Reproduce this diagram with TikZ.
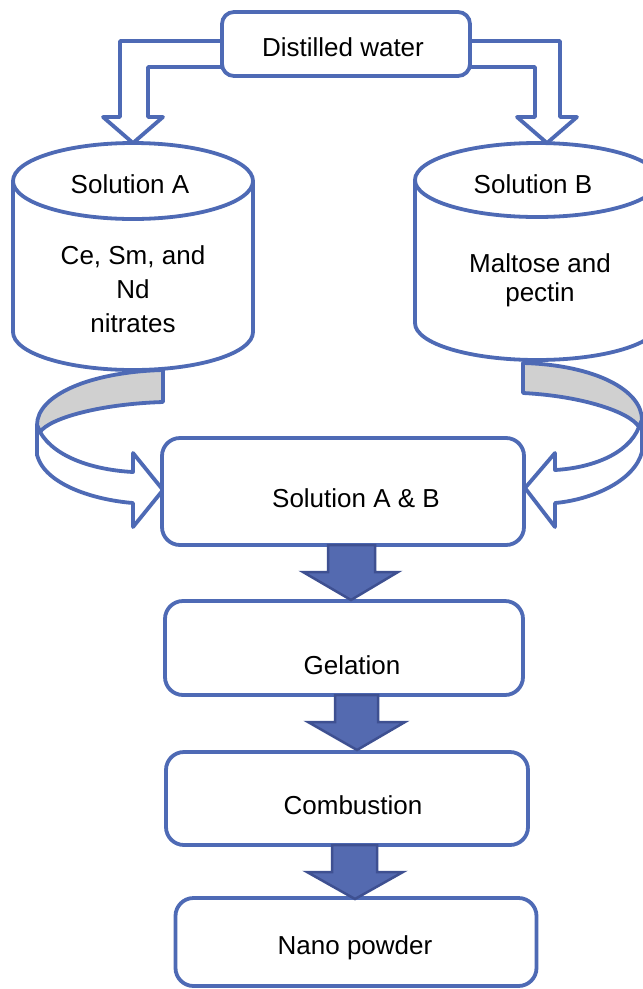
\documentclass[tikz,border=0pt]{standalone}
\usepackage{fontspec}
\setmainfont{Liberation Sans}
\definecolor{lblue}{RGB}{78,106,181}
\definecolor{bfill}{RGB}{84,106,176}
\definecolor{bdraw}{RGB}{62,80,145}
\definecolor{lgray}{RGB}{208,208,208}
\begin{document}
\begin{tikzpicture}[x=1pt,y=-1pt,
  every node/.style={font=\fontsize{26}{31}\selectfont, text=black},
  box/.style={draw=lblue, line width=3.8pt, fill=white, rounded corners=18pt, inner sep=0pt},
  outl/.style={draw=lblue, line width=3.8pt, line join=round},
  blk/.style={fill=bfill, draw=bdraw, line width=2.5pt, line join=miter},
  lbl/.style={align=center, inner sep=0pt}]
\useasboundingbox (0,0) rectangle (643,989);
\fill[white] (0,0) rectangle (643,989);

% bent arrows from Distilled water
\draw[outl, fill=white] (250,41) -- (120,41) -- (120,117) -- (103,117) -- (133,143) -- (163,117) -- (148,117) -- (148,67) -- (250,67);
\draw[outl, fill=white] (440,41) -- (560,41) -- (560,117) -- (577,117) -- (547,143) -- (517,117) -- (535,117) -- (535,67) -- (440,67);

\node[box, rounded corners=12pt, minimum width=248pt, minimum height=64pt] (dw) at (346,44) {};
\node[lbl] (dwt) at (343,47) {Distilled water};

% cylinder A
\path[outl, fill=white] (13,181) -- (13,332) .. controls (13,353) and (66.7,370) .. (133,370) .. controls (199.3,370) and (253,353) .. (253,332) -- (253,181);
\draw[outl, fill=white] (133,181) circle[x radius=120pt, y radius=38pt];
\node[lbl] (sa) at (130,184) {Solution A};
\node[lbl, font=\fontsize{26}{34}\selectfont] (sac) at (133,289) {Ce, Sm, and\\Nd\\nitrates};

% cylinder B
\path[outl, fill=white] (415,180) -- (415,323) .. controls (415,343.5) and (469.6,360) .. (537,360) .. controls (604.4,360) and (659,343.5) .. (659,323) -- (659,180);
\draw[outl, fill=white] (537,180) circle[x radius=122pt, y radius=37pt];
\node[lbl] (sb) at (533,184) {Solution B};
\node[lbl, font=\fontsize{26}{29}\selectfont] (sbc) at (540,280) {Maltose and\\pectin};

% curved arrow left
\path[outl, fill=lgray] (163,370) .. controls (90,372) and (37,395) .. (37,425) -- (40,432) .. controls (50,418) and (100,404) .. (163,402) -- cycle;
\path[outl, fill=white] (37,425) -- (37,455) .. controls (45,485) and (95,500) .. (133,503) -- (133,527) -- (163,490) -- (133,453) -- (133,472) .. controls (95,470) and (55,458) .. (40,432) -- cycle;

% curved arrow right
\path[outl, fill=lgray] (523,363) .. controls (595,365) and (642,390) .. (642,420) -- (639,427) .. controls (630,412) and (582,396) .. (523,393) -- cycle;
\path[outl, fill=white] (642,420) -- (642,452) .. controls (634,482) and (590,500) .. (555,503) -- (555,527) -- (525,488) -- (555,453) -- (555,470) .. controls (590,468) and (628,455) .. (639,427) -- cycle;

% process boxes
\node[box, minimum width=362pt, minimum height=107pt] (ab) at (343,491.5) {};
\node[lbl] (abt) at (356,498) {Solution A \& B};
\node[box, minimum width=358pt, minimum height=94pt] (gel) at (344,648) {};
\node[lbl] (gelt) at (352,665) {Gelation};
\node[box, minimum width=362pt, minimum height=93pt] (com) at (347,798.5) {};
\node[lbl] (comt) at (353,805) {Combustion};
\node[box, minimum width=361pt, minimum height=88pt] (nano) at (356,942) {};
\node[lbl] (nanot) at (355,948) {Nano powder};

% block arrows
\draw[blk] (328,545) -- (375,545) -- (375,572) -- (398,572) -- (351,600) -- (303,572) -- (328,572) -- cycle;
\draw[blk] (335,695) -- (378,695) -- (378,722) -- (405,722) -- (357,750) -- (308,722) -- (335,722) -- cycle;
\draw[blk] (332,845) -- (377,845) -- (377,872) -- (403,872) -- (355,899) -- (307,872) -- (332,872) -- cycle;
\end{tikzpicture}
\end{document}
